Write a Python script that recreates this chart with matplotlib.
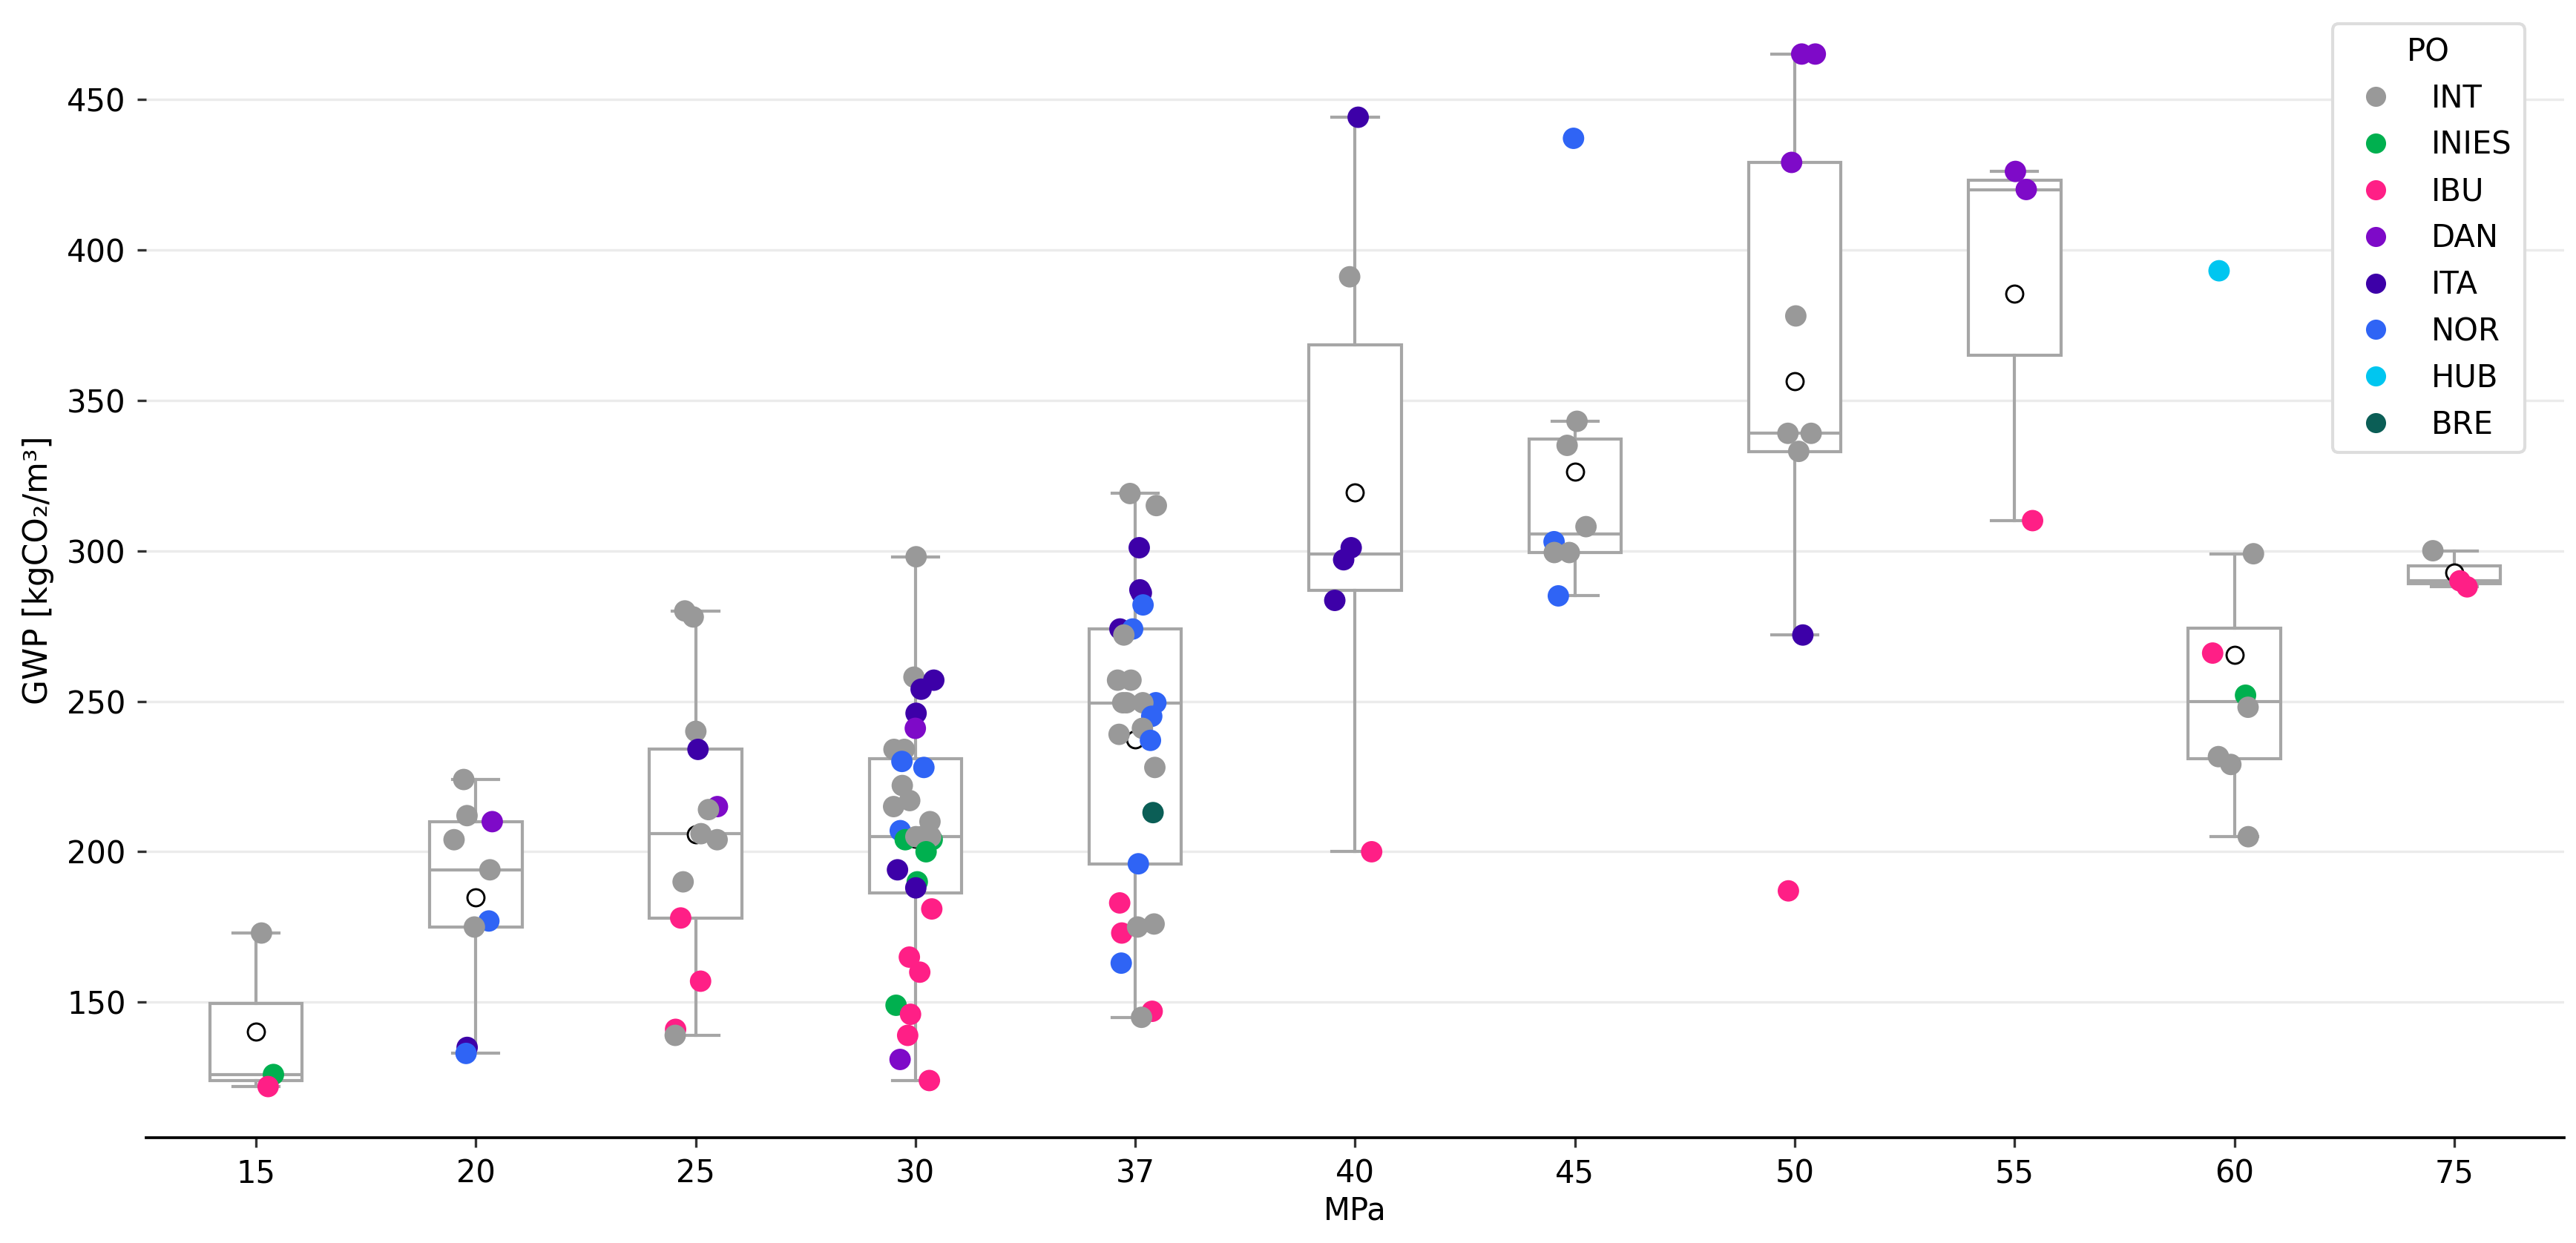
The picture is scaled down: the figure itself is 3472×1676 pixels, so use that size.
import numpy as np
import matplotlib
matplotlib.use('Agg')
import matplotlib.pyplot as plt
from matplotlib.lines import Line2D

plt.rcParams['font.family'] = ['DejaVu Sans']
plt.rcParams['font.size'] = 10

# classes de résistance (MPa) et valeurs de GWP lues par classe
mpa = ['15', '20', '25', '30', '37', '40', '45', '50', '55', '60', '75']

gwp_15 = [173, 126, 122]
po_15 = ['INT', 'INIES', 'IBU']

gwp_20 = [224, 212, 210, 204, 194, 177, 175, 135, 133]
po_20 = ['INT', 'INT', 'DAN', 'INT', 'INT', 'NOR', 'INT', 'ITA', 'NOR']

gwp_25 = [280, 278, 240, 234, 215, 214, 206, 204, 190, 178, 157, 141, 139]
po_25 = ['INT', 'INT', 'INT', 'ITA', 'DAN', 'INT', 'INT', 'INT', 'INT',
         'IBU', 'IBU', 'IBU', 'INT']

gwp_30 = [298, 258, 257, 254, 246, 241, 234, 234, 230, 228, 222, 217, 215,
          210, 207, 204, 204, 205, 205, 205, 200, 194, 190, 188, 181, 165,
          160, 149, 146, 139, 131, 124]
po_30 = ['INT', 'INT', 'ITA', 'ITA', 'ITA', 'DAN', 'INT', 'INT', 'NOR', 'NOR',
         'INT', 'INT', 'INT', 'INT', 'NOR', 'INIES', 'INIES', 'INT', 'INT',
         'INT', 'INIES', 'ITA', 'INIES', 'ITA', 'IBU', 'IBU', 'IBU', 'INIES',
         'IBU', 'IBU', 'DAN', 'IBU']

gwp_37 = [319, 315, 301, 287, 286, 282, 274, 274, 272, 257, 257, 249.5,
          249.5, 249.5, 249.5, 245, 241, 239, 237, 228, 213, 196, 183, 173,
          176, 175, 163, 147, 145]
po_37 = ['INT', 'INT', 'ITA', 'ITA', 'ITA', 'NOR', 'ITA', 'NOR', 'INT', 'INT',
         'INT', 'NOR', 'INT', 'INT', 'INT', 'NOR', 'INT', 'INT', 'NOR', 'INT',
         'BRE', 'NOR', 'IBU', 'IBU', 'INT', 'INT', 'NOR', 'IBU', 'INT']

gwp_40 = [444, 391, 301, 297, 283.5, 200]
po_40 = ['ITA', 'INT', 'ITA', 'ITA', 'ITA', 'IBU']

gwp_45 = [437, 343, 335, 308, 303, 299.4, 299.4, 285]
po_45 = ['NOR', 'INT', 'INT', 'INT', 'NOR', 'INT', 'INT', 'NOR']

gwp_50 = [465, 465, 429, 378, 339, 339, 333, 272, 187]
po_50 = ['DAN', 'DAN', 'DAN', 'INT', 'INT', 'INT', 'INT', 'ITA', 'IBU']

gwp_55 = [426, 420, 310]
po_55 = ['DAN', 'DAN', 'IBU']

gwp_60 = [393, 299, 266, 252, 248, 231.6, 229, 205]
po_60 = ['HUB', 'INT', 'IBU', 'INIES', 'INT', 'INT', 'INT', 'INT']

gwp_75 = [300, 290, 288]
po_75 = ['INT', 'IBU', 'IBU']

po_levels = ['INT', 'INIES', 'IBU', 'DAN', 'ITA', 'NOR', 'HUB', 'BRE']
po_colors = ['#999999', '#00b04f', '#ff1f86', '#7e0ac8', '#3d00a8',
             '#2f64f5', '#00c6f0', '#0b5e56']
couleur = dict(zip(po_levels, po_colors))

groupes_gwp = [gwp_15, gwp_20, gwp_25, gwp_30, gwp_37, gwp_40, gwp_45,
               gwp_50, gwp_55, gwp_60, gwp_75]
groupes_po = [po_15, po_20, po_25, po_30, po_37, po_40, po_45,
              po_50, po_55, po_60, po_75]

fig = plt.figure(figsize=(3472 / 300, 1676 / 300), dpi=300)
ax = fig.add_axes([0.0567, 0.0847, 0.9387, 0.913])

# boîtes à moustaches (sans points aberrants, moyenne en cercle blanc)
gris = '#a6a6a6'
ax.boxplot(groupes_gwp, positions=range(len(mpa)), widths=0.42,
           patch_artist=True, showfliers=False, showmeans=True,
           capwidths=0.21,
           boxprops=dict(facecolor='white', edgecolor=gris, linewidth=1.0),
           whiskerprops=dict(color=gris, linewidth=1.0),
           capprops=dict(color=gris, linewidth=1.0),
           medianprops=dict(color=gris, linewidth=1.0),
           meanprops=dict(marker='o', markerfacecolor='white',
                          markeredgecolor='black', markersize=5.5,
                          markeredgewidth=0.7),
           zorder=2)

# nuage de points avec un léger décalage horizontal
rng = np.random.default_rng(7)
for i, (vals, pos) in enumerate(zip(groupes_gwp, groupes_po)):
    dx = rng.uniform(-0.1, 0.1, len(vals))
    ax.scatter(i + dx, vals, c=[couleur[p] for p in pos], s=48,
               linewidths=0, zorder=3)

ax.set_xticks(range(len(mpa)))
ax.set_xticklabels(mpa)
ax.set_xlim(-0.5, len(mpa) - 0.5)
ax.set_yticks([150, 200, 250, 300, 350, 400, 450])
ax.set_ylim(105, 482)
ax.set_xlabel('MPa', labelpad=2)
ax.set_ylabel('GWP [kgCO₂/m³]', labelpad=4, fontsize=10.5)

ax.grid(axis='y', color='#ebebeb', linewidth=0.8)
ax.set_axisbelow(True)
for s in ['top', 'right', 'left']:
    ax.spines[s].set_visible(False)
ax.spines['bottom'].set_color('black')
ax.spines['bottom'].set_linewidth(0.9)
ax.tick_params(axis='both', length=3, width=0.8, color='#333333')

poignees = [Line2D([], [], marker='o', linestyle='', color=c, markersize=5.5)
            for c in po_colors]
ax.legend(poignees, po_levels, title='PO', loc='upper right',
          bbox_to_anchor=(0.99, 0.995), framealpha=1, edgecolor='#dddddd')

fig.savefig('out.png', dpi=300)
